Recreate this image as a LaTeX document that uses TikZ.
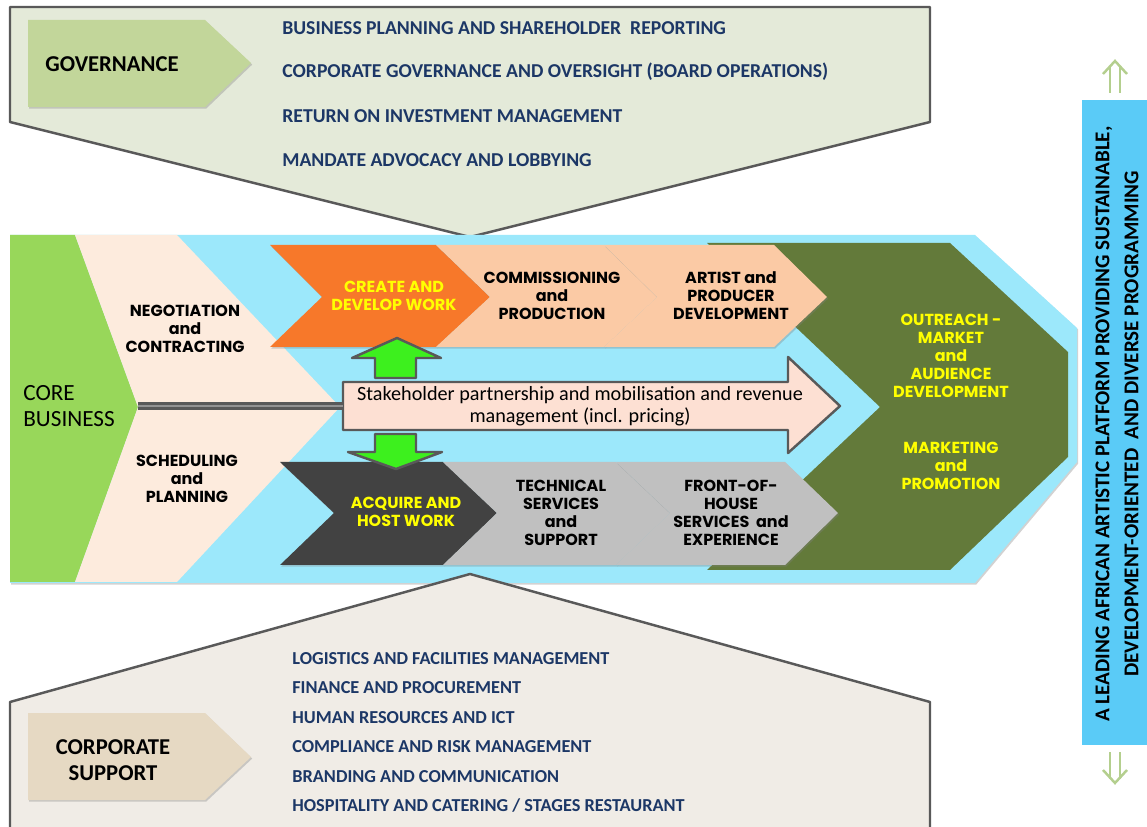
\documentclass[tikz,border=0pt]{standalone}
\usepackage{fontspec}
\setmainfont{Carlito}
\newfontfamily\chevfont{Poppins}
\usetikzlibrary{shadows}
\definecolor{govfill}{HTML}{E4EAD9}
\definecolor{govchev}{HTML}{C2D69A}
\definecolor{navy}{HTML}{1C3766}
\definecolor{edge}{HTML}{595959}
\definecolor{band}{HTML}{9CE8FB}
\definecolor{coregreen}{HTML}{98D75A}
\definecolor{peachlight}{HTML}{FDEBDD}
\definecolor{orangechev}{HTML}{F7782A}
\definecolor{peachchev}{HTML}{FBCAA5}
\definecolor{olive}{HTML}{637A3A}
\definecolor{darkchev}{HTML}{424242}
\definecolor{graychev}{HTML}{C0C0C0}
\definecolor{stakefill}{HTML}{FDE0D3}
\definecolor{pushgreen}{HTML}{3DF01E}
\definecolor{supfill}{HTML}{F0ECE6}
\definecolor{supchev}{HTML}{E6D9C3}
\definecolor{visionband}{HTML}{5ACBF7}
\definecolor{visionarrow}{HTML}{B4CF8E}
\definecolor{hotyellow}{HTML}{FFFF00}

\begin{document}
\begin{tikzpicture}[x=0.02cm,y=-0.02cm,
    chev/.style={drop shadow={opacity=.35,shadow xshift=.7pt,shadow yshift=-.9pt}},
    outline/.style={draw=edge,line width=1.4pt,line join=round},
    govitem/.style={anchor=west,inner xsep=0pt,text=navy,font=\bfseries\fontsize{11.2}{13}\selectfont},
    supitem/.style={anchor=west,inner xsep=0pt,text=navy,font=\bfseries\fontsize{10.4}{12}\selectfont},
    chevtxt/.style={align=center,font=\chevfont\bfseries\fontsize{9.1}{10.2}\selectfont},
    hottxt/.style={chevtxt,text=hotyellow},
    bigtxt/.style={align=center,font=\bfseries\fontsize{12.9}{14.8}\selectfont},
    vision/.style={visionarrow,line width=1.4pt}]
    \useasboundingbox (0,0) rectangle (1147,827);
    \fill[white] (0,0) rectangle (1147,827);

    \draw[outline,fill=govfill] (10,7) -- (930,7) -- (930,122) -- (470,237) -- (10,122) -- cycle;
    \fill[chev,govchev] (28,20) -- (205,20) -- (251,63) -- (205,107) -- (28,107) -- cycle;
    \node[bigtxt] (gov) at (112,64) {GOVERNANCE};
    \node[govitem] (gov1) at (282,28) {BUSINESS PLANNING AND SHAREHOLDER\ \ REPORTING};
    \node[govitem] (gov2) at (282,72) {CORPORATE GOVERNANCE AND OVERSIGHT (BOARD OPERATIONS)};
    \node[govitem] (gov3) at (282,116) {RETURN ON INVESTMENT MANAGEMENT};
    \node[govitem] (gov4) at (282,160) {MANDATE ADVOCACY AND LOBBYING};

    \fill[chev,band] (10,235) -- (975,235) -- (1077,328) -- (1077,462) -- (975,583) -- (10,583) -- cycle;
    \fill[olive] (707,243) -- (950,243) -- (1068,352) -- (1068,457) -- (950,570) -- (707,570) -- (880,407) -- cycle;
    \fill[coregreen] (10,235) -- (75,235) -- (138,407) -- (75,582) -- (10,582) -- cycle;
    \fill[peachlight] (75,235) -- (177,235) -- (340,407) -- (177,582) -- (75,582) -- (138,407) -- cycle;
    \node[align=left,anchor=west,inner sep=0pt,font=\fontsize{13.2}{14.5}\selectfont] (core) at (23,406) {CORE\\BUSINESS};
    \node[chevtxt] (nego) at (185,329) {NEGOTIATION\\and\\CONTRACTING};
    \node[chevtxt] (sched) at (187,479) {SCHEDULING\\and\\PLANNING};

    \fill[chev,orangechev] (270,245) -- (436,245) -- (490,297) -- (436,347) -- (270,347) -- (322,297) -- cycle;
    \fill[chev,peachchev] (436,245) -- (604,245) -- (657,297) -- (604,347) -- (436,347) -- (490,297) -- cycle;
    \fill[chev,peachchev] (604,245) -- (774,245) -- (827,297) -- (774,347) -- (604,347) -- (657,297) -- cycle;
    \node[hottxt] (create) at (394,296) {CREATE AND\\DEVELOP WORK};
    \node[chevtxt] (comm) at (552,296) {COMMISSIONING\\and\\PRODUCTION};
    \node[chevtxt] (artist) at (731,296) {ARTIST and\\PRODUCER\\DEVELOPMENT};

    \fill[chev,darkchev] (280,462) -- (443,462) -- (497,513) -- (443,565) -- (280,565) -- (334,513) -- cycle;
    \fill[chev,graychev] (443,462) -- (616,462) -- (670,513) -- (616,565) -- (443,565) -- (497,513) -- cycle;
    \fill[chev,graychev] (616,462) -- (785,462) -- (838,513) -- (785,565) -- (616,565) -- (670,513) -- cycle;
    \node[hottxt] (acquire) at (406,512) {ACQUIRE AND\\HOST WORK};
    \node[chevtxt] (tech) at (561,513) {TECHNICAL\\SERVICES\\and\\SUPPORT};
    \node[chevtxt] (foh) at (731,513) {FRONT-OF-\\HOUSE\\SERVICES\ \ and\\EXPERIENCE};

    \node[hottxt] (outreach) at (951,356) {OUTREACH -\\MARKET\\and\\AUDIENCE\\DEVELOPMENT};
    \node[hottxt] (marketing) at (951,466) {MARKETING\\and\\PROMOTION};

    \draw[outline,fill=stakefill] (343,382) -- (788,382) -- (788,357) -- (840,406) -- (788,453) -- (788,430) -- (343,430) -- cycle;
    \node[align=center,font=\fontsize{11.5}{12.5}\selectfont] (stake) at (580,406) {Stakeholder partnership and mobilisation and revenue\\management (incl. pricing)};
    \coordinate (coretip) at (138,406);
    \coordinate (stakein) at (343,406);
    \draw[edge,line width=4pt] (coretip) -- (stakein);
    \draw[gray!85,line width=1.6pt] (coretip) -- (stakein);

    \draw[outline,fill=pushgreen] (375,378) -- (416,378) -- (416,358) -- (441,358) -- (397,338) -- (352,358) -- (375,358) -- cycle;
    \draw[outline,fill=pushgreen] (375,434) -- (416,434) -- (416,452) -- (442,452) -- (396,469) -- (348,452) -- (375,452) -- cycle;

    \fill[supfill] (10,830) -- (10,702) -- (470,574) -- (930,702) -- (930,830) -- cycle;
    \draw[outline] (10,830) -- (10,702) -- (470,574) -- (930,702) -- (930,830);
    \fill[chev,supchev] (28,713) -- (205,713) -- (251,757) -- (205,800) -- (28,800) -- cycle;
    \node[bigtxt] (corp) at (113,760) {CORPORATE\\SUPPORT};
    \node[supitem] (sup1) at (292,659) {LOGISTICS AND FACILITIES MANAGEMENT};
    \node[supitem] (sup2) at (292,688) {FINANCE AND PROCUREMENT};
    \node[supitem] (sup3) at (292,718) {HUMAN RESOURCES AND ICT};
    \node[supitem] (sup4) at (292,747) {COMPLIANCE AND RISK MANAGEMENT};
    \node[supitem] (sup5) at (292,777) {BRANDING AND COMMUNICATION};
    \node[supitem] (sup6) at (292,806) {HOSPITALITY AND CATERING / STAGES RESTAURANT};

    \fill[visionband] (1082,100) rectangle (1147,745);
    \node[rotate=90,align=center,font=\bfseries\fontsize{12}{16.5}\selectfont] (vision) at (1117,424) {A LEADING AFRICAN ARTISTIC PLATFORM PROVIDING SUSTAINABLE,\\DEVELOPMENT-ORIENTED\ \ AND DIVERSE PROGRAMMING};
    \draw[vision] (1110,93) -- (1110,66) (1120,93) -- (1120,66);
    \draw[vision,line join=miter] (1103,74) -- (1115,61) -- (1127,74);
    \draw[vision] (1110,752) -- (1110,779) (1120,752) -- (1120,779);
    \draw[vision,line join=miter] (1103,770) -- (1115,783) -- (1127,770);
\end{tikzpicture}
\end{document}
